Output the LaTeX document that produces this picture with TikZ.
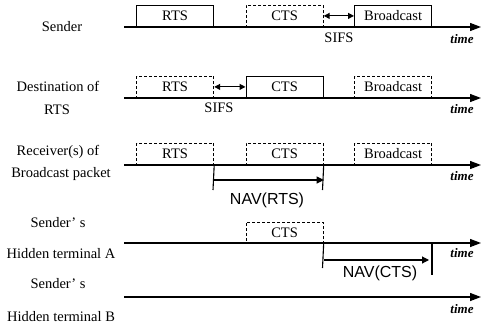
\documentclass[tikz,border=0pt]{standalone}
\usepackage{fontspec}
\setmainfont{Liberation Serif}
\newfontfamily\navfont{Liberation Sans}
\usetikzlibrary{arrows.meta}
\begin{document}
\begin{tikzpicture}[x=1pt,y=-1pt,
  every node/.style={font=\fontsize{14.5}{17}\selectfont, inner sep=0pt},
  axis/.style={line width=1.3pt, -{Triangle[length=11pt,width=8pt]}},
  framebox/.style={rectangle, minimum width=77pt, minimum height=21pt, anchor=south west, line width=1.2pt},
  solidbox/.style={framebox, draw},
  dashbox/.style={framebox, draw, dash pattern=on 3pt off 2pt},
  sifs/.style={line width=1.1pt, {Triangle[length=6pt,width=6pt]}-{Triangle[length=6pt,width=6pt]}},
  nav/.style={line width=1.1pt, -{Triangle[length=7pt,width=7pt]}},
  tick/.style={line width=1.1pt},
  timelbl/.style={font=\fontsize{13}{15}\selectfont\bfseries\itshape},
  navlbl/.style={font=\fontsize{16}{18}\navfont}
]
\useasboundingbox (0,0) rectangle (481,329);

% Row 1: Sender
\coordinate (a1s) at (124,27); \coordinate (a1e) at (481,27);
\node (l1) at (62,27) {Sender};
\node[solidbox] (s-rts) at (136,27) {RTS};
\node[dashbox] (s-cts) at (245.5,27) {CTS};
\node[solidbox] (s-bc) at (354,27) {Broadcast};
\draw[axis] (a1s) -- (a1e);
\draw[sifs] (s-cts.east) -- (s-bc.west);
\node (sifs1) at (339,38) {SIFS};
\node[timelbl] (t1) at (462,39) {time};

% Row 2: Destination of RTS
\coordinate (a2s) at (124,98); \coordinate (a2e) at (481,98);
\node (l2a) at (58,86) {Destination of};
\node (l2b) at (57,110) {RTS};
\node[dashbox] (d-rts) at (136,98) {RTS};
\node[solidbox] (d-cts) at (245.5,98) {CTS};
\node[dashbox] (d-bc) at (354,98) {Broadcast};
\draw[axis] (a2s) -- (a2e);
\draw[sifs] (d-rts.east) -- (d-cts.west);
\node (sifs2) at (219,108) {SIFS};
\node[timelbl] (t2) at (462,109) {time};

% Row 3: Receivers of Broadcast packet
\coordinate (a3s) at (124,165); \coordinate (a3e) at (481,165);
\node (l3a) at (58,152) {Receiver(s) of};
\node (l3b) at (61,174) {Broadcast packet};
\node[dashbox] (r-rts) at (136,165) {RTS};
\node[dashbox] (r-cts) at (245.5,165) {CTS};
\node[dashbox] (r-bc) at (354,165) {Broadcast};
\draw[axis] (a3s) -- (a3e);
\coordinate (n1a) at (213,190); \coordinate (n1b) at (322.5,190);
\draw[tick] (r-rts.south east) -- (n1a);
\draw[tick] (r-cts.south east) -- (n1b);
\draw[nav] ([yshift=-15pt]r-rts.south east) -- ([yshift=-15pt]r-cts.south east);
\node[navlbl] (nav1) at (267,200) {NAV(RTS)};
\node[timelbl] (t3) at (462,176) {time};

% Row 4: Sender's Hidden terminal A
\coordinate (a4s) at (124,243); \coordinate (a4e) at (481,243);
\node (l4a) at (58,223) {Sender’ s};
\node (l4b) at (61,254) {Hidden terminal A};
\node[dashbox, minimum height=20pt] (h-cts) at (245.5,243) {CTS};
\draw[axis] (a4s) -- (a4e);
\coordinate (n2a) at (322.5,268); \coordinate (n2t) at (432,243); \coordinate (n2b) at (432,275);
\draw[tick] (h-cts.south east) -- (n2a);
\draw[tick] (n2t) -- (n2b);
\draw[nav] ([yshift=-17pt]h-cts.south east) -- ([xshift=-3pt,yshift=-17pt]n2t);
\node[navlbl] (nav2) at (380,273) {NAV(CTS)};
\node[timelbl] (t4) at (462,253) {time};

% Row 5: Sender's Hidden terminal B
\coordinate (a5s) at (124,297); \coordinate (a5e) at (481,297);
\node (l5a) at (58,284) {Sender’ s};
\node (l5b) at (61,317) {Hidden terminal B};
\draw[axis] (a5s) -- (a5e);
\node[timelbl] (t5) at (462,309) {time};
\end{tikzpicture}
\end{document}
